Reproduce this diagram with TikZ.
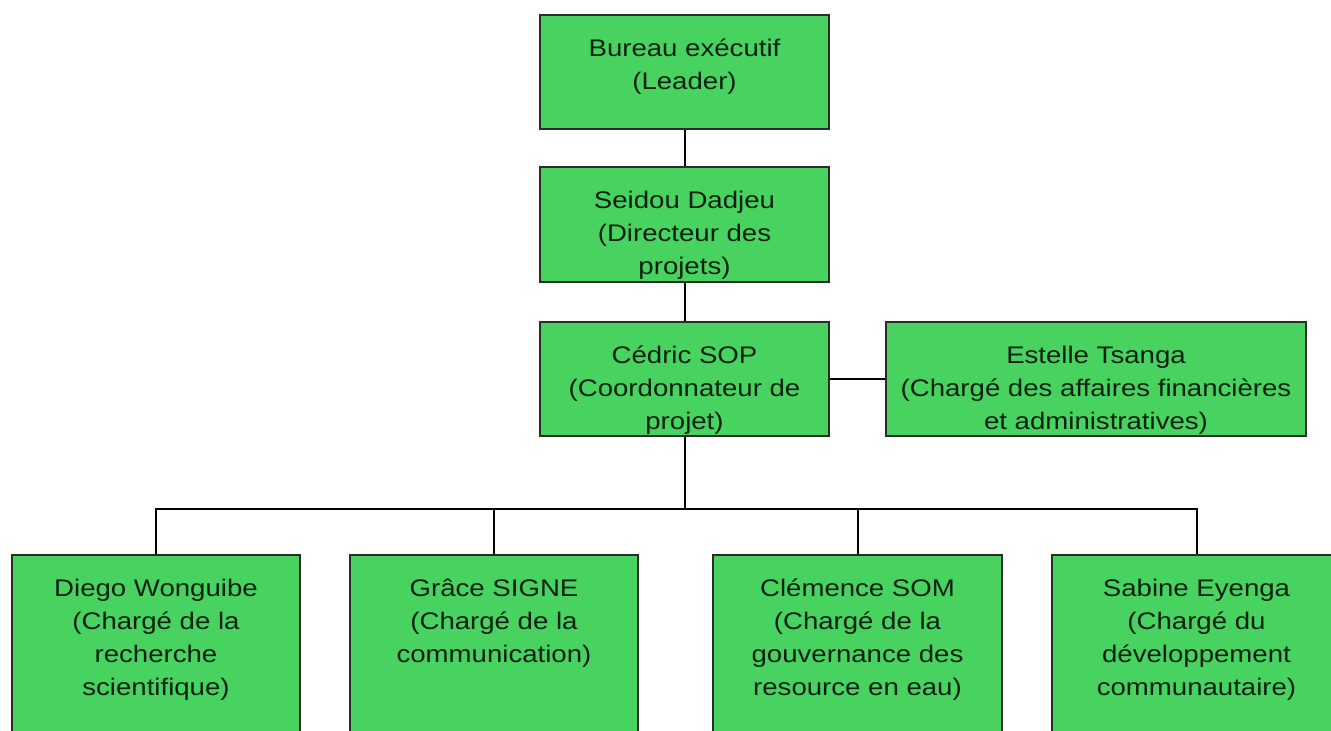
\documentclass[tikz,border=0pt]{standalone}
\usepackage{fontspec}
\newfontfamily\boxfont[FakeStretch=1.15]{Liberation Sans}
\definecolor{boxgreen}{RGB}{72,210,96}
\definecolor{boxedge}{RGB}{40,45,40}
\definecolor{txt}{RGB}{10,32,14}
\begin{document}
\begin{tikzpicture}[x=1pt,y=-1pt,
  box/.style={draw=boxedge, line width=1.8pt, fill=boxgreen, inner sep=0pt, rectangle},
  lbl/.style={inner sep=0pt, align=center, text=txt, font=\boxfont\fontsize{24}{33}\selectfont, anchor=base},
  wire/.style={draw=black, line width=2pt}]
\useasboundingbox (0,0) rectangle (1331,731);
\clip (0,0) rectangle (1331,731);
\coordinate (bus) at (684.5,509);
% top column
\node[box, minimum width=289pt, minimum height=114pt] (b1) at (684.5,72) {};
\node[box, minimum width=289pt, minimum height=115pt] (b2) at (684.5,224.5) {};
\node[box, minimum width=289pt, minimum height=114pt] (b3) at (684.5,379) {};
\node[box, minimum width=420pt, minimum height=114pt] (b4) at (1096,379) {};
% bottom row
\node[box, minimum width=288pt, minimum height=230pt] (d1) at (156,670) {};
\node[box, minimum width=288pt, minimum height=230pt] (d2) at (494,670) {};
\node[box, minimum width=289pt, minimum height=230pt] (d3) at (857.5,670) {};
\node[box, minimum width=289pt, minimum height=230pt] (d4) at (1196.5,670) {};
% connectors
\draw[wire] (b1.south) -- (b2.north);
\draw[wire] (b2.south) -- (b3.north);
\draw[wire] (b3.east) -- (b4.west);
\draw[wire] (b3.south) -- (bus);
\draw[wire] (bus) -| (d1.north);
\draw[wire] (bus) -| (d4.north);
\draw[wire] (d2.north) -- (d2.north |- bus);
\draw[wire] (d3.north) -- (d3.north |- bus);
% labels (anchor base = baseline of last line)
\node[lbl] (t1) at ([yshift=-75pt]b1.north) {Bureau exécutif\\(Leader)};
\node[lbl] (t2) at ([yshift=-108pt]b2.north) {Seidou Dadjeu\\(Directeur des\\projets)};
\node[lbl] (t3) at ([yshift=-108pt]b3.north) {Cédric SOP\\(Coordonnateur de\\projet)};
\node[lbl] (t4) at ([yshift=-108pt]b4.north) {Estelle Tsanga\\(Chargé des affaires financières\\et administratives)};
\node[lbl] (t5) at ([yshift=-141pt]d1.north) {Diego Wonguibe\\(Chargé de la\\recherche\\scientifique)};
\node[lbl] (t6) at ([yshift=-108pt]d2.north) {Grâce SIGNE\\(Chargé de la\\communication)};
\node[lbl] (t7) at ([yshift=-141pt]d3.north) {Clémence SOM\\(Chargé de la\\gouvernance des\\resource en eau)};
\node[lbl] (t8) at ([yshift=-141pt]d4.north) {Sabine Eyenga\\(Chargé du\\développement\\communautaire)};
\end{tikzpicture}
\end{document}
